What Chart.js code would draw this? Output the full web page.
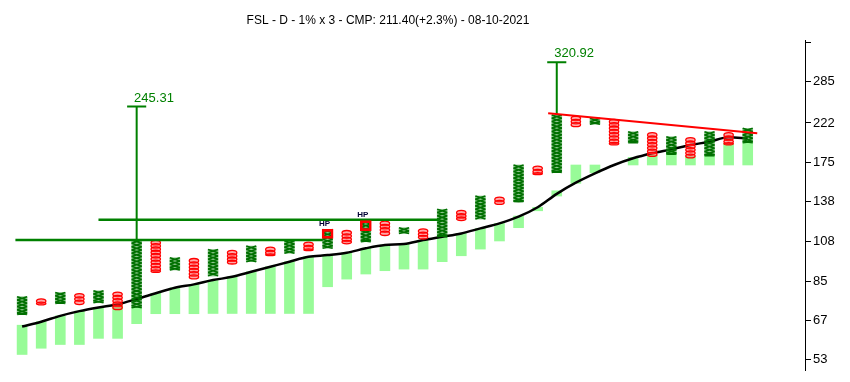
<!DOCTYPE html>
<html>
<head>
<meta charset="utf-8">
<script src="https://cdn.jsdelivr.net/npm/chart.js@4.4.0/dist/chart.umd.min.js"></script>
<style>
  html, body { margin: 0; padding: 0; background: #fff; }
  #wrap { width: 850px; height: 382px; position: relative; }
</style>
</head>
<body>
<div id="wrap"><canvas id="pnf"></canvas></div>
<script>
// point & figure columns, 1% box x 3 reversal
var chartTitle = "FSL - D - 1% x 3 - CMP: 211.40(+2.3%) - 08-10-2021";
var colTypes = ["X","O","X","O","X","O","X","O","X","O","X","O","X","O","X","O","X","O","X","O",
                "X","O","X","O","X","O","X","O","X","O","X","O","X","O","X","O","X","O","X"];
var colTop = [77.5, 76.2, 79.5, 78.7, 80.3, 79.4, 109.2, 108.6, 98.1, 97.3, 103.2, 102.2, 105.3, 104.2,
              108.8, 107.4, 116.5, 115.3, 122.8, 122.0, 117.7, 116.5, 131.6, 130.2, 142.6, 141.1, 172.1,
              170.3, 233.0, 230.6, 228.3, 226.0, 210.5, 208.5, 204.3, 202.3, 210.5, 208.5, 214.9];
var colBottom = [69.6, 74.0, 74.4, 74.0, 74.7, 71.9, 72.5, 90.1, 91.1, 86.6, 87.8, 94.8, 95.8, 99.7,
                 100.8, 102.8, 103.9, 107.1, 108.1, 112.6, 113.7, 110.3, 111.4, 123.3, 124.0, 136.1, 137.8,
                 162.9, 164.6, 217.9, 220.2, 195.1, 197.0, 182.0, 183.6, 180.3, 182.0, 195.1, 197.0];

// light green band bars (null = none drawn)
var bandHigh = [65.2, 66.6, 69.0, 71.0, 72.6, 74.0, 72.5, 79.1, 81.8, 83.5, 85.7, 87.4, 90.1, 92.9, 95.8,
                98.7, 99.7, 101.1, 103.9, 106.0, 106.6, 109.2, 111.4, 113.7, 117.2, 120.8, 126.3, 133.2,
                147.2, 172.1, 172.1, null, 180.3, 182.8, 185.4, 180.9, 182.8, 196.3, 197.0];
var bandLow = [54.6, 56.7, 58.0, 58.0, 60.2, 60.2, 65.8, 69.9, 69.9, 69.9, 70.0, 70.0, 70.0, 70.0, 70.0,
               70.0, 82.3, 86.2, 88.9, 90.7, 91.6, 91.6, 95.8, 99.3, 103.4, 108.6, 117.7, 130.4, 142.6,
               154.0, 164.2, null, 172.1, 172.1, 172.1, 172.1, 172.1, 172.1, 172.1];

// black average line
var avgLine = [64.7, 66.6, 69.0, 71.0, 72.6, 74.0, 76.4, 79.1, 81.8, 83.5, 85.7, 87.4, 90.1, 92.9, 95.8,
               98.7, 99.7, 101.1, 103.9, 106.0, 106.6, 109.2, 111.4, 113.7, 117.2, 120.8, 125.8, 133.2,
               144.5, 154.6, 163.6, 172.1, 179.2, 184.7, 189.2, 194.2, 198.2, 203.5, 202.3];

// support lines (horizontal, green)
var supportLevel = [109.2, 123.5];
var supportFrom = [-0.35, 4.0];
var supportTo = [15.75, 21.85];

// vertical count targets
var targetCol = [6, 28];
var targetFrom = [109.2, 233.0];
var targetTo = [245.31, 320.92];

// resistance trend line (red)
var trendX = [27.55, 38.5];
var trendY = [235.4, 208.5];

// HP boxes
var hpCol = [16, 18];
var hpLow = [110.3, 115.6];
var hpHigh = [116.5, 122.8];

var yTicks = [53, 67, 85, 108, 138, 175, 222, 285, 362];

var FONT = "'Liberation Sans', Arial, sans-serif";

var xData = [], oData = [], bandData = [], avgData = [];
for (var i = 0; i < colTypes.length; i++) {
  var pt = { x: i, y: [colBottom[i], colTop[i]] };
  if (colTypes[i] === "X") xData.push(pt); else oData.push(pt);
  if (bandHigh[i] !== null) bandData.push({ x: i, y: [bandLow[i], bandHigh[i]] });
  avgData.push({ x: i, y: avgLine[i] });
}

var datasets = [
  { type: "bar", label: "band", data: bandData, backgroundColor: "#98fb98", borderWidth: 0,
    barThickness: 10, grouped: false, order: 10 },
  { type: "line", label: "avg", data: avgData, borderColor: "#000", borderWidth: 2.5, pointRadius: 0,
    tension: 0.3, cubicInterpolationMode: "monotone", order: 9 },
  { type: "bar", label: "X", glyph: "X", data: xData, backgroundColor: "rgba(0,128,0,0.45)", borderWidth: 0,
    barThickness: 10, grouped: false, order: 8 },
  { type: "bar", label: "O", glyph: "O", data: oData, backgroundColor: "rgba(0,0,0,0)", borderWidth: 0,
    barThickness: 10, grouped: false, order: 8 }
];

for (var s = 0; s < supportLevel.length; s++) {
  datasets.push({ type: "line", data: [{ x: supportFrom[s], y: supportLevel[s] }, { x: supportTo[s], y: supportLevel[s] }],
    borderColor: "#008000", borderWidth: 2.5, pointRadius: 0, order: 5 });
}
for (var t = 0; t < targetCol.length; t++) {
  var c = targetCol[t];
  datasets.push({ type: "line", target: targetTo[t].toFixed(2),
    data: [{ x: c, y: targetFrom[t] }, { x: c, y: targetTo[t] }, { x: c - 0.5, y: targetTo[t] }, { x: c + 0.5, y: targetTo[t] }],
    borderColor: "#008000", borderWidth: 2, pointRadius: 0, order: 5 });
}
datasets.push({ type: "line", data: [{ x: trendX[0], y: trendY[0] }, { x: trendX[1], y: trendY[1] }],
  borderColor: "#ff0000", borderWidth: 2, pointRadius: 0, order: 4 });

var hpData = [];
for (var h = 0; h < hpCol.length; h++) hpData.push({ x: hpCol[h], y: [hpLow[h], hpHigh[h]] });
datasets.push({ type: "bar", label: "HP", hp: true, data: hpData, backgroundColor: "rgba(0,0,0,0)",
  borderColor: "#ff0000", borderWidth: 2, borderSkipped: false, barThickness: 11, grouped: false, order: 3 });

var pnfGlyphs = {
  id: "pnfGlyphs",
  afterDatasetDraw: function (chart, args) {
    var ds = chart.data.datasets[args.index];
    var ctx = chart.ctx;
    var yScale = chart.scales.y;
    ctx.save();
    if (ds.glyph) {
      var step = Math.abs(yScale.getPixelForValue(100) - yScale.getPixelForValue(102.01));
      args.meta.data.forEach(function (bar) {
        var top = Math.min(bar.y, bar.base), bottom = Math.max(bar.y, bar.base);
        var half = bar.width / 2;
        for (var yy = top; yy < bottom - 0.5; yy += step) {
          var hgt = Math.min(step, bottom - yy);
          ctx.beginPath();
          if (ds.glyph === "X") {
            ctx.lineWidth = 1.6;
            ctx.strokeStyle = "#007000";
            ctx.moveTo(bar.x - half, yy); ctx.lineTo(bar.x + half, yy + hgt);
            ctx.moveTo(bar.x - half, yy + hgt); ctx.lineTo(bar.x + half, yy);
            ctx.stroke();
          } else {
            ctx.lineWidth = 1.3;
            ctx.strokeStyle = "#ff0000";
            ctx.fillStyle = "rgba(255,60,60,0.45)";
            ctx.ellipse(bar.x, yy + hgt / 2, half - 0.3, hgt / 2 + 0.6, 0, 0, Math.PI * 2);
            ctx.fill();
            ctx.stroke();
          }
        }
      });
    }
    if (ds.hp) {
      ctx.font = "bold 8px " + FONT;
      ctx.fillStyle = "#000033";
      ctx.textAlign = "center";
      ctx.textBaseline = "bottom";
      args.meta.data.forEach(function (bar) {
        ctx.fillText("HP", bar.x - 3, Math.min(bar.y, bar.base) - 2);
      });
    }
    if (ds.target) {
      var p = args.meta.data[2];
      ctx.font = "13px " + FONT;
      ctx.fillStyle = "#008000";
      ctx.textAlign = "left";
      ctx.textBaseline = "bottom";
      ctx.fillText(ds.target, p.x + 7, p.y - 2);
    }
    ctx.restore();
  },
  afterDraw: function (chart) {
    var ctx = chart.ctx;
    ctx.save();
    ctx.font = "12px " + FONT;
    ctx.fillStyle = "#000";
    ctx.textAlign = "center";
    ctx.textBaseline = "middle";
    ctx.fillText(chartTitle, 388, 21);
    ctx.restore();
  }
};

new Chart(document.getElementById("pnf").getContext("2d"), {
  type: "bar",
  data: { datasets: datasets },
  options: {
    responsive: true,
    maintainAspectRatio: false,
    animation: false,
    layout: { padding: { top: 40, left: 3, bottom: 12, right: 0 } },
    plugins: { legend: { display: false }, tooltip: { enabled: false }, title: { display: false } },
    scales: {
      x: { type: "linear", display: false, min: -1, max: 41, offset: false },
      y: {
        type: "logarithmic",
        position: "right",
        min: 49.7,
        max: 367,
        afterBuildTicks: function (scale) {
          scale.ticks = yTicks.map(function (v) { return { value: v }; });
        },
        afterFit: function (scale) { scale.width = 45; },
        grid: { drawOnChartArea: false, drawTicks: true, tickLength: 6, color: "#000" },
        border: { display: true, color: "#000", width: 1, dash: [1, 1] },
        ticks: {
          padding: 2,
          color: "#000",
          font: { family: FONT, size: 13 },
          callback: function (v) { return v === 362 ? "" : String(v); }
        }
      }
    }
  },
  plugins: [pnfGlyphs]
});
</script>
</body>
</html>
